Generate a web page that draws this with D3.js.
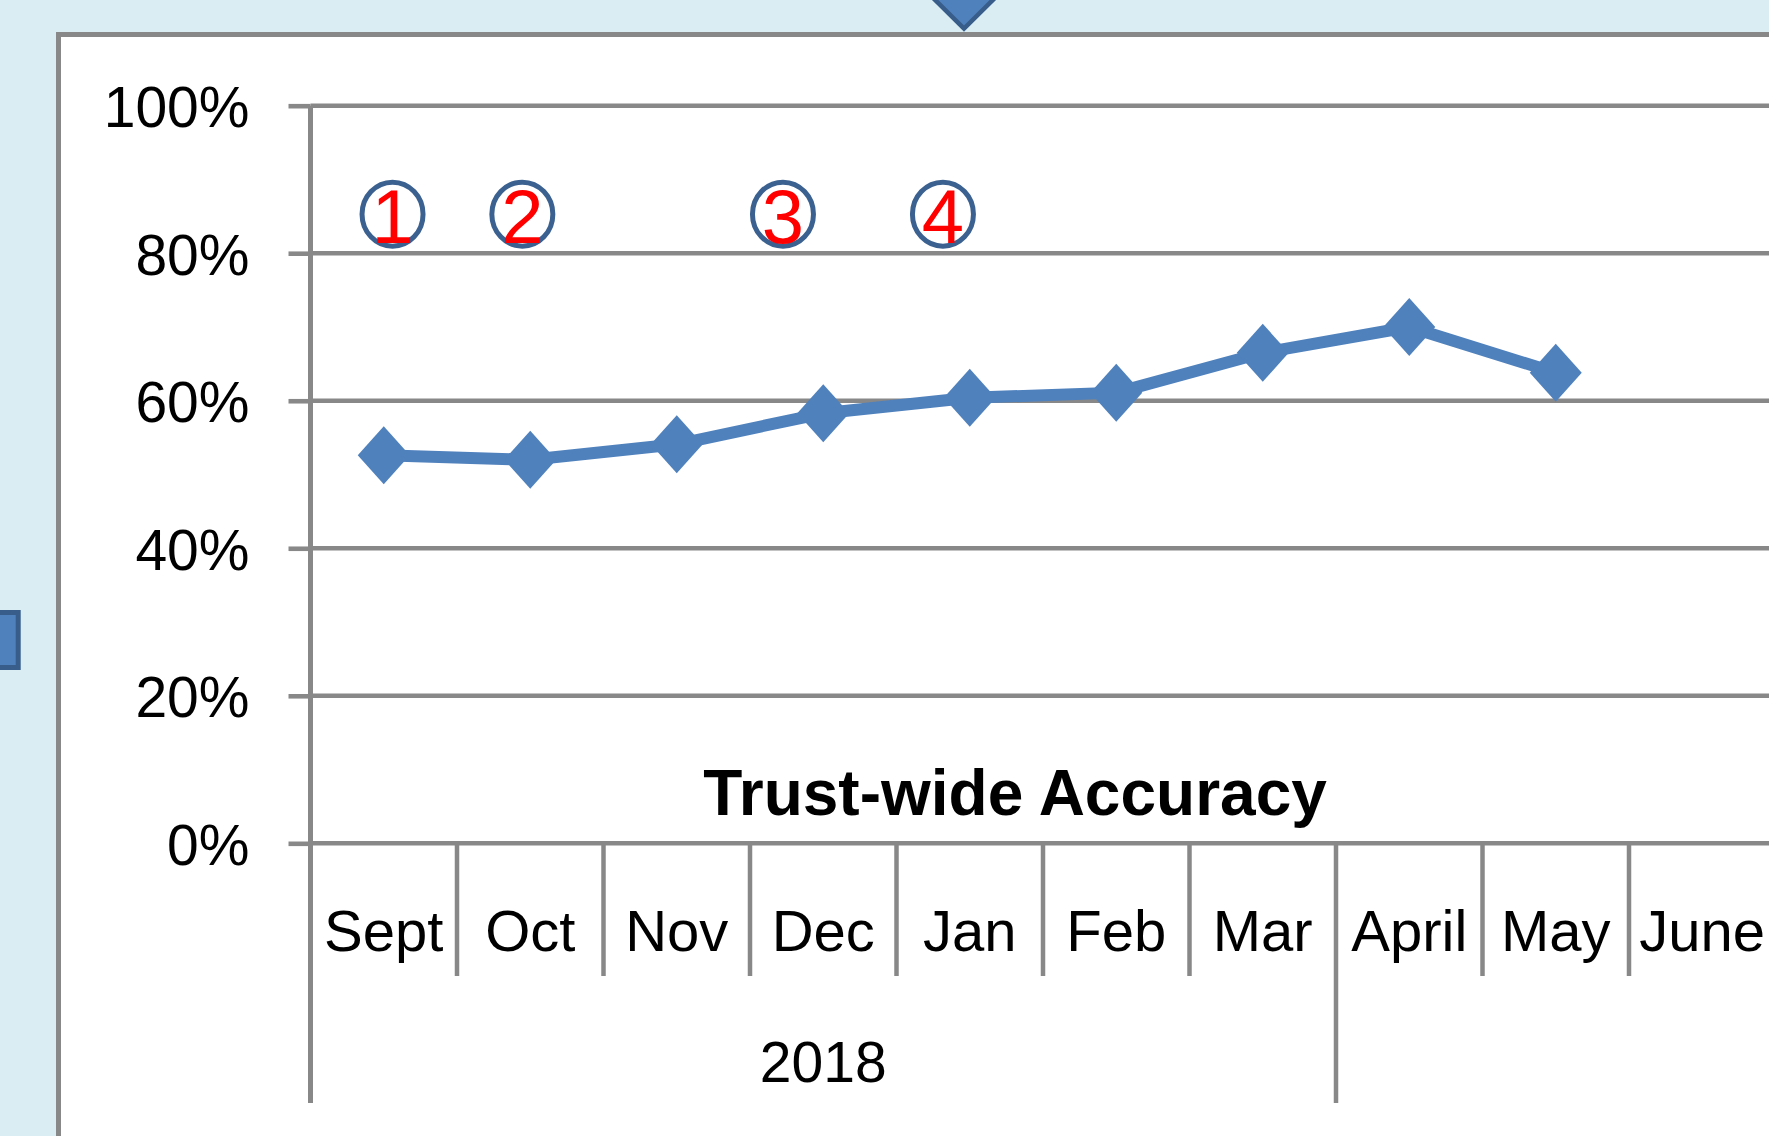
<!DOCTYPE html>
<html>
<head>
<meta charset="utf-8">
<script src="https://cdn.jsdelivr.net/npm/d3@7"></script>
<style>
html,body{margin:0;padding:0;background:#daedf3;}
svg{display:block;}
</style>
</head>
<body>
<svg id="chart" width="1769" height="1136"></svg>
<script>
// ---- data ----
const months = ["Sept","Oct","Nov","Dec","Jan","Feb","Mar","April","May","June"];
const accuracy = [0.526, 0.520, 0.541, 0.583, 0.604, 0.611, 0.665, 0.700, 0.638, null];
const yTicks = [0, 0.2, 0.4, 0.6, 0.8, 1.0];
const groups = [
  {label: "2018", start: "Sept", end: "Mar"},
  {label: "", start: "April", end: "June"}
];
const chartTitle = "Trust-wide Accuracy";
// annotation markers (category index position, value)
const annoLabels = ["1","2","3","4"];
const annoIndex = [0.56, 1.446, 3.225, 4.317];
const annoValue = [0.853, 0.853, 0.853, 0.853];

// ---- layout ----
const W = 1769, H = 1136;
const svg = d3.select("#chart");
const font = "'Liberation Sans', Arial, sans-serif";

const plotLeft = 310.5, band = 146.5;
const y0 = 843.3, y1 = 105.7;

const x = d3.scaleBand().domain(months).range([plotLeft, plotLeft + band * months.length]).padding(0);
const y = d3.scaleLinear().domain([0, 1]).range([y0, y1]);
const xi = d3.scaleLinear().domain([0, months.length]).range([plotLeft, plotLeft + band * months.length]);

// background decorations
svg.append("rect").attr("x", 0).attr("y", 0).attr("width", W).attr("height", H).attr("fill", "#daedf3");
svg.append("rect").attr("x", -10).attr("y", 612.5).attr("width", 28.2).attr("height", 55)
  .attr("fill", "#4f81bd").attr("stroke", "#385d8a").attr("stroke-width", 5);
svg.append("rect").attr("x", 58.5).attr("y", 34.5).attr("width", 2000).attr("height", 2000)
  .attr("fill", "#ffffff").attr("stroke", "#888888").attr("stroke-width", 5);
svg.append("path").attr("d", "M921,-14 L964,28.5 L1007,-14 Z")
  .attr("fill", "#4f81bd").attr("stroke", "#385d8a").attr("stroke-width", 4.5);

const grid = "#888888";

// gridlines
svg.append("g").selectAll("line").data(yTicks).join("line")
  .attr("x1", plotLeft).attr("x2", W)
  .attr("y1", d => y(d)).attr("y2", d => y(d))
  .attr("stroke", grid).attr("stroke-width", 4.6);

// y axis (ticks + labels)
const yAxis = d3.axisLeft(y).tickValues(yTicks).tickFormat(d3.format(".0%")).tickSize(22).tickPadding(39);
const gy = svg.append("g").attr("transform", `translate(${plotLeft},0)`).call(yAxis);
gy.select(".domain").remove();
gy.selectAll(".tick line").attr("stroke", grid).attr("stroke-width", 4.6);
gy.selectAll(".tick text").attr("font-family", font).attr("font-size", 57).attr("fill", "#000").attr("dy", "0.37em");

// y axis line
svg.append("line").attr("x1", plotLeft).attr("x2", plotLeft).attr("y1", y(1)).attr("y2", 1103)
  .attr("stroke", grid).attr("stroke-width", 5);

// category boundary ticks
const groupStarts = groups.map(g => g.start);
svg.append("g").selectAll("line").data(months.slice(1)).join("line")
  .attr("x1", d => x(d)).attr("x2", d => x(d))
  .attr("y1", y(0)).attr("y2", d => groupStarts.includes(d) ? 1103 : 976)
  .attr("stroke", grid).attr("stroke-width", 4.5);

// month labels
svg.append("g").selectAll("text").data(months).join("text")
  .attr("x", d => x(d) + x.bandwidth() / 2).attr("y", y(0) + 108)
  .attr("text-anchor", "middle").attr("font-family", font).attr("font-size", 58).attr("fill", "#000")
  .text(d => d);

// group labels
svg.append("g").selectAll("text").data(groups).join("text")
  .attr("x", d => (x(d.start) + x(d.end) + x.bandwidth()) / 2).attr("y", 1082)
  .attr("text-anchor", "middle").attr("font-family", font).attr("font-size", 57).attr("fill", "#000")
  .text(d => d.label);

// title
svg.append("text").attr("x", 1015).attr("y", 815).attr("text-anchor", "middle")
  .attr("font-family", font).attr("font-weight", "bold").attr("font-size", 64).attr("fill", "#000")
  .text(chartTitle);

// series line
const pts = months.map((m, i) => ({m, v: accuracy[i]}));
const line = d3.line().defined(d => d.v != null)
  .x(d => x(d.m) + x.bandwidth() / 2).y(d => y(d.v));
svg.append("path").datum(pts).attr("d", line)
  .attr("fill", "none").attr("stroke", "#4f81bd").attr("stroke-width", 12).attr("stroke-linejoin", "round");

// diamond markers
const diamond = {
  draw(ctx, size) {
    const hw = 26, hh = 29;
    ctx.moveTo(0, -hh); ctx.lineTo(hw, 0); ctx.lineTo(0, hh); ctx.lineTo(-hw, 0); ctx.closePath();
  }
};
svg.append("g").selectAll("path").data(pts.filter(d => d.v != null)).join("path")
  .attr("transform", d => `translate(${x(d.m) + x.bandwidth() / 2},${y(d.v)})`)
  .attr("d", d3.symbol().type(diamond).size(1))
  .attr("fill", "#4f81bd");

// annotations
const annos = annoLabels.map((t, i) => ({t, i: annoIndex[i], v: annoValue[i]}));
const ga = svg.append("g").selectAll("g").data(annos).join("g")
  .attr("transform", d => `translate(${xi(d.i)},${y(d.v)})`);
ga.append("ellipse").attr("rx", 30.5).attr("ry", 32)
  .attr("fill", "none").attr("stroke", "#3b6190").attr("stroke-width", 5);
ga.append("text").attr("y", 29).attr("text-anchor", "middle")
  .attr("font-family", font).attr("font-size", 76).attr("fill", "#ff0000")
  .text(d => d.t);
</script>
</body>
</html>
